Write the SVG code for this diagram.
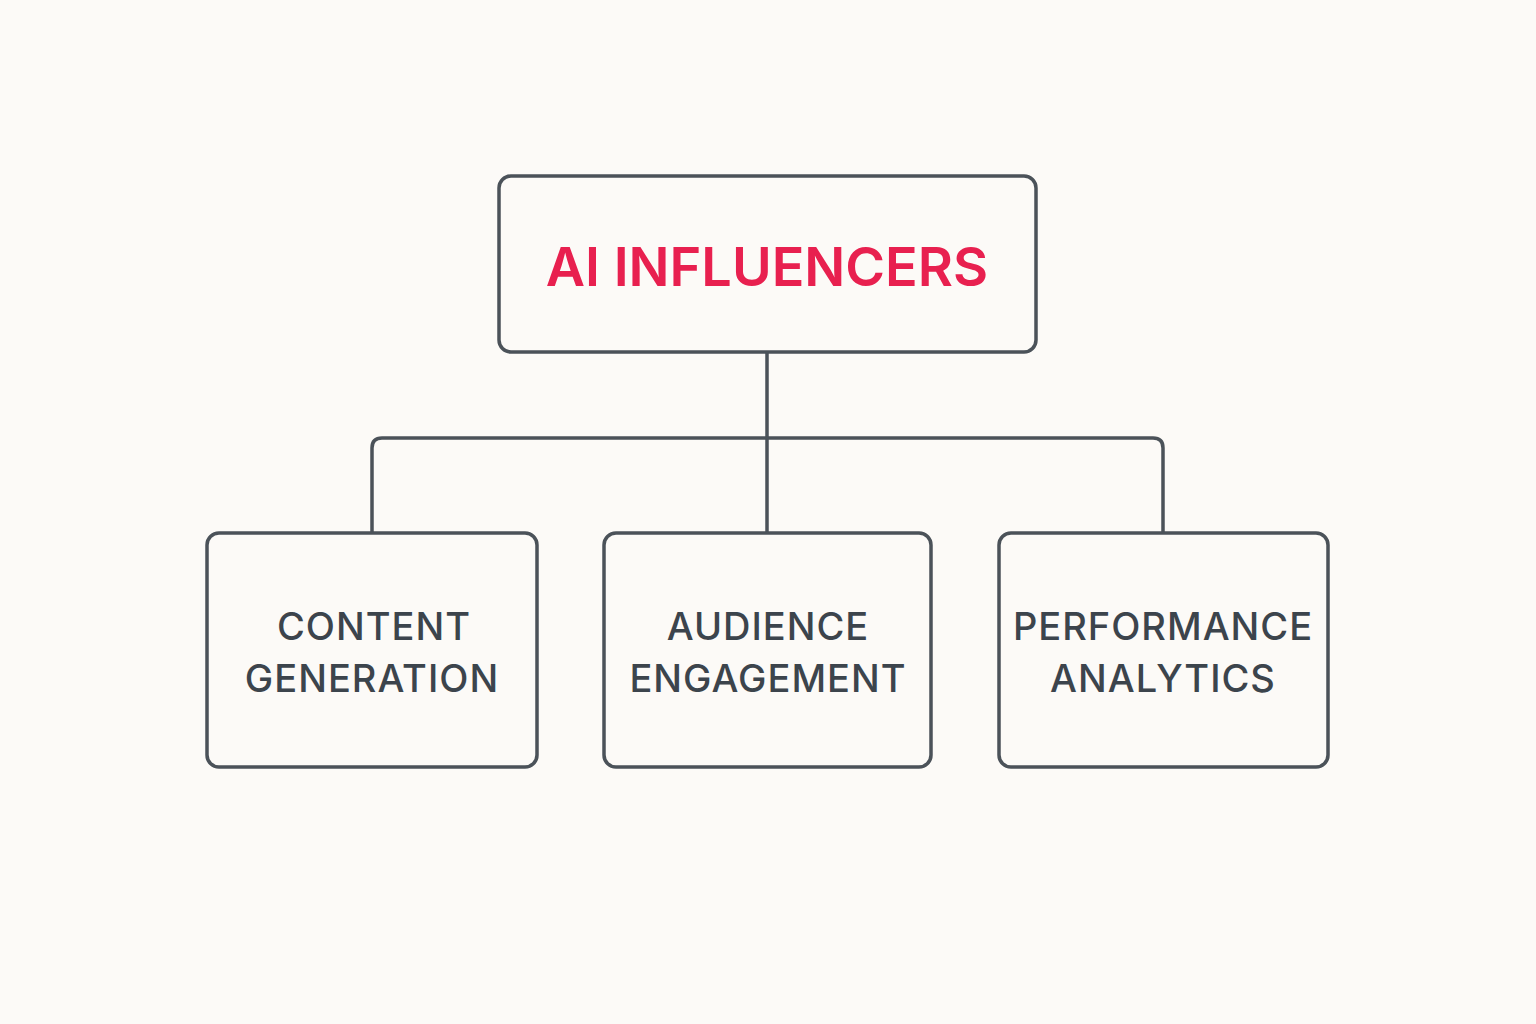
<svg xmlns="http://www.w3.org/2000/svg" width="1536" height="1024" viewBox="0 0 1536 1024">
<style>
.box{fill:#fcfaf7;stroke:#4b5259;stroke-width:3.5}
.lbl{font-family:Inter,"Liberation Sans",sans-serif;font-size:38px;font-weight:500;fill:#3c444c;text-anchor:middle;letter-spacing:1px}
.con{fill:none;stroke:#4b5259;stroke-width:3.5}
</style>
<rect width="1536" height="1024" fill="#fcfaf7"/>
<g id="connectors">
<path class="con" d="M767 352V532M372 532V448Q372 438 382 438H1153Q1163 438 1163 448V532"/>
</g>
<g id="root">
<rect class="box" x="499" y="176" width="537" height="176" rx="12"/>
<text x="767" y="286" font-family="Inter,'Liberation Sans',sans-serif" font-size="54" font-weight="600" fill="#e8204f" text-anchor="middle">AI INFLUENCERS</text>
</g>
<g id="content">
<rect class="box" x="207" y="533" width="330" height="234" rx="12"/>
<text class="lbl" x="374" y="640">CONTENT</text>
<text class="lbl" x="372" y="692">GENERATION</text>
</g>
<g id="audience">
<rect class="box" x="604" y="533" width="327" height="234" rx="12"/>
<text class="lbl" x="768" y="640">AUDIENCE</text>
<text class="lbl" x="768" y="692">ENGAGEMENT</text>
</g>
<g id="performance">
<rect class="box" x="999" y="533" width="329" height="234" rx="12"/>
<text class="lbl" x="1163" y="640">PERFORMANCE</text>
<text class="lbl" x="1163" y="692">ANALYTICS</text>
</g>
</svg>
